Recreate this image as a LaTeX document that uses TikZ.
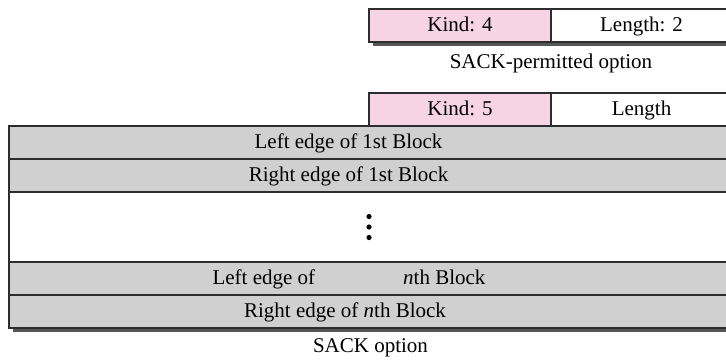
\documentclass[tikz,border=0pt]{standalone}
\usepackage{fontspec}
\setmainfont{Liberation Serif}
\usepackage{xcolor}
\usetikzlibrary{positioning, shadows}

\definecolor{kindpink}{RGB}{247,212,228}
\definecolor{fieldgray}{RGB}{208,208,208}
\definecolor{edgegray}{RGB}{45,45,45}
\definecolor{shadegray}{RGB}{85,85,85}

\begin{document}
\begin{tikzpicture}[
  field/.style={rectangle, draw=edgegray, line width=0.8pt, outer sep=0pt, inner sep=0pt, minimum height=16.5pt, text height=6.9pt, text depth=1pt, font=\fontsize{10.5}{12.6}\selectfont},
  kindbox/.style={field, fill=kindpink, minimum width=91pt},
  lenbox/.style={field, fill=white, minimum width=90.5pt},
  rowbox/.style={field, fill=fieldgray, minimum width=361.5pt},
  gapbox/.style={field, fill=white, minimum width=361.5pt, minimum height=35pt},
  shade/.style={drop shadow={shadow xshift=2pt, shadow yshift=-2pt, fill=shadegray, opacity=1}},
  caption/.style={font=\fontsize{10.5}{12.6}\selectfont, inner sep=0pt, anchor=base}
]
  \useasboundingbox (0pt,0pt) rectangle (363pt,-179.5pt);

  \node [kindbox, shade, anchor=north west] (kind4) at (184.5pt,-4.5pt) {Kind: 4};
  \node [lenbox, shade, right=0pt of kind4] (len2) {Length: 2};
  \node [caption] (permitted) at ([yshift=-13pt]kind4.south east) {SACK-permitted option};

  \node [kindbox, anchor=north west] (kind5) at (184.5pt,-46.5pt) {Kind: 5};
  \node [lenbox, right=0pt of kind5] (len) {Length};

  \node [rowbox, anchor=north west] (left1) at (4.5pt,-63pt) {Left edge of 1st Block\kern22pt\mbox{}};
  \node [rowbox, below=0pt of left1] (right1) {Right edge of 1st Block\kern22pt\mbox{}};
  \node [gapbox, below=0pt of right1] (gap) {};
  \node [rowbox, below=0pt of gap] (leftn) {Left edge of\hspace{44pt}\textit{n}th Block\kern21.5pt\mbox{}};
  \node [rowbox, shade, below=0pt of leftn] (rightn) {Right edge of \textit{n}th Block\kern25.5pt\mbox{}};
  \node [caption] (sack) at ([yshift=-12pt]rightn.south) {SACK option};

  \foreach \d in {-1,0,1}
    \fill [black] ([xshift=-0.75pt, yshift=\d*5.25pt]gap.center) circle (1.3pt);
\end{tikzpicture}
\end{document}
